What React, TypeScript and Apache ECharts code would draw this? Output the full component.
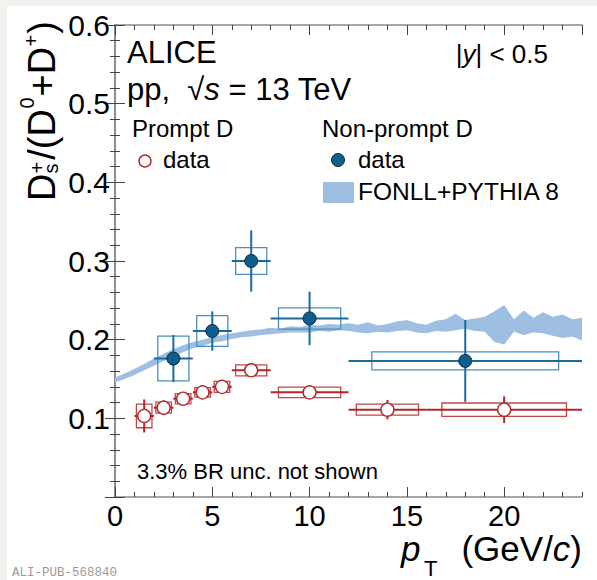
import React, { useEffect, useRef } from "react";
import * as echarts from "echarts";

// ---------------- data ----------------
// Prompt D  (Ds+/(D0+D+))
const promptPt = [1.5, 2.5, 3.5, 4.5, 5.5, 7, 10, 14, 20];
const promptBinLo = [1, 2, 3, 4, 5, 6, 8, 12, 16];
const promptBinHi = [2, 3, 4, 5, 6, 8, 12, 16, 24];
const promptVal = [0.103, 0.1135, 0.125, 0.133, 0.14, 0.161, 0.133, 0.111, 0.111];
const promptStat = [0.021, 0.0095, 0.006, 0.005, 0.005, 0.004, 0.004, 0.0123, 0.017];
const promptSyst = [0.015, 0.007, 0.0065, 0.006, 0.007, 0.007, 0.0067, 0.007, 0.0085];

// Non-prompt D
const nonpromptPt = [3, 5, 7, 10, 18];
const nonpromptBinLo = [2, 4, 6, 8, 12];
const nonpromptBinHi = [4, 6, 8, 12, 24];
const nonpromptVal = [0.176, 0.211, 0.3, 0.227, 0.173];
const nonpromptStat = [0.03, 0.025, 0.039, 0.034, 0.052];
const nonpromptSyst = [0.0285, 0.0195, 0.017, 0.0135, 0.0115];

// FONLL+PYTHIA 8 band
const bandPt = [
  0, 0.5, 1, 1.5, 2, 2.5, 3, 3.5, 4, 4.5, 5, 5.5, 6, 6.5, 7, 7.5, 8, 8.5, 9, 9.5, 10, 10.5, 11, 11.5, 12,
  12.5, 13, 13.5, 14, 14.5, 15, 15.5, 16, 16.5, 17, 17.5, 18, 18.5, 19, 19.5, 20, 20.5, 21, 21.5, 22, 22.5,
  23, 23.5, 24,
];
const bandLow = [
  0.146, 0.15, 0.155, 0.161, 0.167, 0.173, 0.179, 0.184, 0.189, 0.192, 0.196, 0.198, 0.201, 0.203, 0.204,
  0.206, 0.207, 0.208, 0.209, 0.209, 0.209, 0.211, 0.21, 0.212, 0.211, 0.209, 0.208, 0.21, 0.209, 0.211,
  0.212, 0.209, 0.208, 0.211, 0.21, 0.212, 0.214, 0.211, 0.21, 0.197, 0.194, 0.21, 0.206, 0.209, 0.208,
  0.205, 0.202, 0.204, 0.199,
];
const bandHigh = [
  0.152, 0.157, 0.163, 0.169, 0.176, 0.182, 0.188, 0.193, 0.197, 0.2, 0.203, 0.206, 0.208, 0.21, 0.212,
  0.213, 0.215, 0.214, 0.217, 0.216, 0.219, 0.218, 0.22, 0.219, 0.221, 0.219, 0.222, 0.218, 0.22, 0.223,
  0.225, 0.221, 0.219, 0.224, 0.226, 0.233, 0.225, 0.227, 0.229, 0.236, 0.244, 0.226, 0.237, 0.228, 0.235,
  0.229, 0.232, 0.226, 0.228,
];

// axis settings
const xMin = 0;
const xMax = 24;
const yMin = 0;
const yMax = 0.6;

// ---------------- styles ----------------
const FONT = "'Liberation Sans', Arial, Helvetica, sans-serif";
const RED = "#b3262a";
const RED_BOX = "#c0474a";
const BLUE = "#1b6b9b";
const BLUE_BOX = "#4a8fbf";
const BLUE_FILL = "#0f5e8d";
const BAND = "#9ebfe2";
const FRAME = "#8a8a8a";
const TICK = "#444444";
const BOX_FRAC = 0.8;
const CENTRAL = 0.3465;

function bt(x: number, baseY: number, text: string, size: number, extra: any = {}, rich?: any) {
  const style: any = {
    text,
    fontSize: size,
    fontFamily: FONT,
    fill: "#000",
    align: "left",
    verticalAlign: "middle",
    ...extra,
  };
  if (rich) style.rich = rich;
  return { type: "text", x, y: baseY - CENTRAL * size, style, silent: true };
}

function richTok(size: number, italic = false, lineHeight?: number) {
  const t: any = { fontSize: size, fontFamily: FONT, fontStyle: italic ? "italic" : "normal", color: "#000" };
  if (lineHeight) t.lineHeight = lineHeight;
  return t;
}

export default function App() {
  const ref = useRef<HTMLDivElement>(null);

  useEffect(() => {
    if (!ref.current) return;
    const chart = echarts.init(ref.current, undefined, { renderer: "svg" });

    const promptRows = promptPt.map((p, i) => [p, promptVal[i], promptBinLo[i], promptBinHi[i], promptStat[i], promptSyst[i]]);
    const nonpromptRows = nonpromptPt.map((p, i) => [
      p,
      nonpromptVal[i],
      nonpromptBinLo[i],
      nonpromptBinHi[i],
      nonpromptStat[i],
      nonpromptSyst[i],
    ]);

    const boxSeries = (rows: number[][], color: string) => ({
      type: "custom",
      xAxisIndex: 0,
      yAxisIndex: 0,
      z: 3,
      silent: true,
      data: rows,
      encode: { x: 0, y: 1 },
      renderItem: (params: any, api: any) => {
        const y = api.value(1);
        const lo = api.value(2);
        const hi = api.value(3);
        const s = api.value(5);
        const w = (hi - lo) * BOX_FRAC;
        const c = (hi + lo) / 2;
        const p1 = api.coord([c - w / 2, y + s]);
        const p2 = api.coord([c + w / 2, y - s]);
        return {
          type: "rect",
          shape: { x: p1[0], y: p1[1], width: p2[0] - p1[0], height: p2[1] - p1[1] },
          style: { fill: "none", stroke: color, lineWidth: 1.3 },
        };
      },
    });

    const errSeries = (rows: number[][], color: string) => ({
      type: "custom",
      xAxisIndex: 0,
      yAxisIndex: 0,
      z: 4,
      silent: true,
      data: rows,
      encode: { x: 0, y: 1 },
      renderItem: (params: any, api: any) => {
        const x = api.value(0);
        const y = api.value(1);
        const lo = api.value(2);
        const hi = api.value(3);
        const e = api.value(4);
        const a = api.coord([lo, y]);
        const b = api.coord([hi, y]);
        const t = api.coord([x, y + e]);
        const d = api.coord([x, y - e]);
        return {
          type: "group",
          children: [
            { type: "line", shape: { x1: a[0], y1: a[1], x2: b[0], y2: b[1] }, style: { stroke: color, lineWidth: 2 } },
            { type: "line", shape: { x1: t[0], y1: t[1], x2: d[0], y2: d[1] }, style: { stroke: color, lineWidth: 2 } },
          ],
        };
      },
    });

    const bandSeries = {
      type: "custom",
      xAxisIndex: 0,
      yAxisIndex: 0,
      z: 2,
      silent: true,
      data: [[bandPt[0], bandLow[0]]],
      encode: { x: 0, y: 1 },
      renderItem: (params: any, api: any) => {
        const pts: number[][] = [];
        for (let i = 0; i < bandPt.length; i++) pts.push(api.coord([bandPt[i], bandHigh[i]]));
        for (let i = bandPt.length - 1; i >= 0; i--) pts.push(api.coord([bandPt[i], bandLow[i]]));
        return { type: "polygon", shape: { points: pts }, style: { fill: BAND, stroke: "none" } };
      },
    };

    const axisLine = { show: true, lineStyle: { color: FRAME, width: 1.6 } };
    const minorX = (pos: string, showLine: boolean) => ({
      type: "value",
      position: pos,
      min: xMin,
      max: xMax,
      interval: 1,
      axisLine: showLine ? axisLine : { show: false },
      axisTick: { show: true, inside: true, length: 5, lineStyle: { color: TICK, width: 1 } },
      axisLabel: { show: false },
      splitLine: { show: false },
    });
    const majorX = (pos: string, showLabel: boolean) => ({
      type: "value",
      position: pos,
      min: xMin,
      max: xMax,
      interval: 5,
      axisLine: { show: false },
      axisTick: { show: true, inside: true, length: 10, lineStyle: { color: TICK, width: 1 } },
      axisLabel: {
        show: showLabel,
        showMaxLabel: false,
        margin: 7,
        fontSize: 29,
        lineHeight: 24,
        fontFamily: FONT,
        color: "#000",
      },
      splitLine: { show: false },
    });
    const yAx = (pos: string, showLabel: boolean) => ({
      type: "value",
      position: pos,
      min: yMin,
      max: yMax,
      interval: 0.1,
      axisLine,
      axisTick: { show: true, inside: true, length: 10, lineStyle: { color: TICK, width: 1 } },
      minorTick: { show: true, splitNumber: 5, length: 5, lineStyle: { color: TICK, width: 1 } },
      axisLabel: {
        show: showLabel,
        showMinLabel: false,
        margin: 5,
        fontSize: 30,
        fontFamily: FONT,
        color: "#000",
        formatter: (v: number) => v.toFixed(1),
      },
      splitLine: { show: false },
    });

    const F = 38;
    const f = 20;
    const yTitle = {
      type: "group",
      x: 55,
      y: 201,
      rotation: Math.PI / 2,
      children: [
        bt(0, 0, "D", F),
        bt(27.5, -11.5, "+", f),
        bt(27.5, 3, "s", f),
        bt(41.2, 0, "/(D", F),
        bt(92.4, -21, "0", f),
        bt(104.5, 0, "+D", F),
        bt(154.6, -17.5, "+", f),
        bt(167.3, 0, ")", F),
      ],
    };

    const graphic: any[] = [
      { type: "rect", shape: { x: 0, y: 0, width: 7, height: 580 }, style: { fill: "#f2f2ee" }, silent: true },
      { type: "rect", shape: { x: 0, y: 0, width: 597, height: 6 }, style: { fill: "#f2f2ee" }, silent: true },
      yTitle,
      bt(401, 561, "p", 35, { fontStyle: "italic", lineHeight: 28 }),
      bt(424, 576, "T", 22, { lineHeight: 16 }),
      bt(582, 561, "(GeV/{i|c})", 35, { align: "right", lineHeight: 28 }, { i: richTok(35, true, 28) }),
      bt(127, 63, "ALICE", 31),
      bt(127, 100, "pp,  √{i|s} = 13 TeV", 31, {}, { i: richTok(31, true) }),
      bt(548, 63, "|{i|y}| < 0.5", 26, { align: "right" }, { i: richTok(26, true) }),
      bt(132, 137, "Prompt D", 24),
      { type: "circle", shape: { cx: 145, cy: 161, r: 6 }, style: { fill: "#fff", stroke: RED, lineWidth: 1.4 }, silent: true },
      bt(163, 168, "data", 24),
      bt(322, 137, "Non-prompt D", 24),
      { type: "circle", shape: { cx: 338, cy: 160, r: 6.5 }, style: { fill: BLUE_FILL, stroke: "#0a2c44", lineWidth: 1 }, silent: true },
      bt(358, 168, "data", 24),
      { type: "rect", shape: { x: 323, y: 182, width: 31, height: 21 }, style: { fill: BAND }, silent: true },
      bt(358, 200, "FONLL+PYTHIA 8", 24.5),
      bt(137, 479, "3.3% BR unc. not shown", 22),
      {
        type: "text",
        x: 12,
        y: 573,
        style: {
          text: "ALI-PUB-568840",
          fontSize: 12.5,
          lineHeight: 10,
          fontFamily: "'Liberation Mono', monospace",
          fill: "#9a9a9a",
          verticalAlign: "middle",
        },
        silent: true,
      },
    ];

    chart.setOption({
      animation: false,
      backgroundColor: "#ffffff",
      grid: { left: 115, top: 25, width: 467, height: 472, containLabel: false },
      xAxis: [minorX("bottom", true), majorX("bottom", true), minorX("top", true), majorX("top", false)],
      yAxis: [yAx("left", true), yAx("right", false)],
      graphic,
      series: [
        bandSeries,
        boxSeries(promptRows, RED_BOX),
        boxSeries(nonpromptRows, BLUE_BOX),
        errSeries(promptRows, RED),
        errSeries(nonpromptRows, BLUE),
        {
          type: "scatter",
          xAxisIndex: 0,
          yAxisIndex: 0,
          z: 5,
          silent: true,
          symbol: "circle",
          symbolSize: 13,
          itemStyle: { color: "#ffffff", borderColor: RED, borderWidth: 1.4, opacity: 1 },
          data: promptPt.map((p, i) => [p, promptVal[i]]),
        },
        {
          type: "scatter",
          xAxisIndex: 0,
          yAxisIndex: 0,
          z: 5,
          silent: true,
          symbol: "circle",
          symbolSize: 13,
          itemStyle: { color: BLUE_FILL, borderColor: "#0a2c44", borderWidth: 1, opacity: 1 },
          data: nonpromptPt.map((p, i) => [p, nonpromptVal[i]]),
        },
      ],
    });

    return () => chart.dispose();
  }, []);

  return <div ref={ref} style={{ position: "absolute", left: 0, top: 0, width: 597, height: 580 }} />;
}
